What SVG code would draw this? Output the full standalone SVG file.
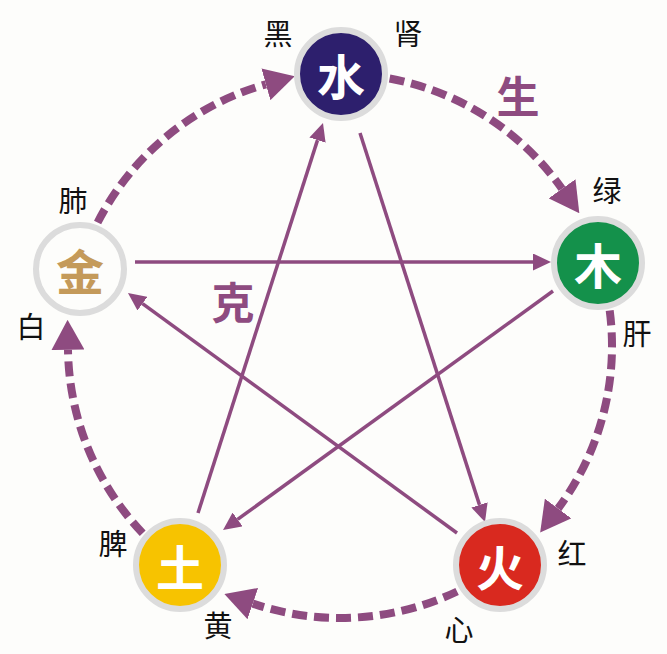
<svg xmlns="http://www.w3.org/2000/svg" width="667" height="654" viewBox="0 0 667 654">
<style>
.ring{stroke:#dcdcdc;stroke-width:6}
.node-t{font-family:"Noto Sans CJK SC","Noto Sans CJK TC",sans-serif;font-size:48px;font-weight:700;text-anchor:middle;dominant-baseline:central}
.lbl{font-family:"Noto Sans CJK SC","Noto Sans CJK TC",sans-serif;font-size:29px;fill:#111;text-anchor:middle;dominant-baseline:central}
.big{font-family:"Noto Sans CJK SC","Noto Sans CJK TC",sans-serif;font-size:43px;font-weight:700;fill:#8e4b80;text-anchor:middle;dominant-baseline:central}
.sheng{fill:none;stroke:#8e4b80;stroke-width:8;stroke-dasharray:15 7;marker-end:url(#bigArrow)}
.ke{fill:none;stroke:#8e4b80;stroke-width:3.5;marker-end:url(#smallArrow)}
</style>
<defs>
<marker id="bigArrow" markerUnits="userSpaceOnUse" viewBox="0 0 30 33" markerWidth="30" markerHeight="33" refX="0" refY="16.5" orient="auto">
<path d="M0,0 L30,16.5 L0,33 Z" fill="#8e4b80"/>
</marker>
<marker id="smallArrow" markerUnits="userSpaceOnUse" viewBox="0 0 18 17" markerWidth="18" markerHeight="17" refX="0" refY="8.5" orient="auto">
<path d="M0,0 L18,8.5 L0,17 Z" fill="#8e4b80"/>
</marker>
</defs>
<rect width="667" height="654" fill="#fdfdfb"/>
<g id="connectors">
<path class="sheng" d="M389.6,78.5 A272,272 0 0 1 562.0,188.8"/>
<path class="sheng" d="M609.7,310.5 A272,272 0 0 1 558.1,508.5"/>
<path class="sheng" d="M457.1,591.5 A272,272 0 0 1 252.8,603.6"/>
<path class="sheng" d="M142.7,533.2 A272,272 0 0 1 68.0,349.8"/>
<path class="sheng" d="M97.6,222.5 A272,272 0 0 1 265.9,84.3"/>
<line class="ke" x1="135" y1="262" x2="533" y2="262"/>
<line class="ke" x1="553" y1="291" x2="237.6" y2="519.4"/>
<line class="ke" x1="198" y1="513" x2="317.5" y2="140.1"/>
<line class="ke" x1="360" y1="133" x2="479.5" y2="504.9"/>
<line class="ke" x1="457" y1="533" x2="142.5" y2="303.6"/>
</g>
<g id="node-water">
<circle class="ring" cx="341" cy="74" r="44" fill="#2d1f6d"/>
<text class="node-t" x="341" y="74" fill="#fff">水</text>
</g>
<g id="node-wood">
<circle class="ring" cx="598" cy="263" r="44" fill="#14914b"/>
<text class="node-t" x="598" y="263" fill="#fff">木</text>
</g>
<g id="node-fire">
<circle class="ring" cx="500" cy="565" r="44" fill="#d9291f"/>
<text class="node-t" x="500" y="565" fill="#fff">火</text>
</g>
<g id="node-earth">
<circle class="ring" cx="180" cy="565" r="44" fill="#f7c300"/>
<text class="node-t" x="180" y="565" fill="#fff">土</text>
</g>
<g id="node-metal">
<circle class="ring" cx="80" cy="269" r="44" fill="#fdfdfb"/>
<text class="node-t" x="80" y="269" fill="#c49a5a">金</text>
</g>
<g id="labels">
<text class="lbl" x="278" y="32">黑</text>
<text class="lbl" x="408" y="32">肾</text>
<text class="lbl" x="607" y="189">绿</text>
<text class="lbl" x="637" y="332">肝</text>
<text class="lbl" x="572" y="552">红</text>
<text class="lbl" x="459" y="628">心</text>
<text class="lbl" x="218" y="624">黄</text>
<text class="lbl" x="113" y="542">脾</text>
<text class="lbl" x="31" y="325">白</text>
<text class="lbl" x="73" y="199">肺</text>
<text class="big" x="518" y="94">生</text>
<text class="big" x="233" y="300">克</text>
</g>
</svg>
